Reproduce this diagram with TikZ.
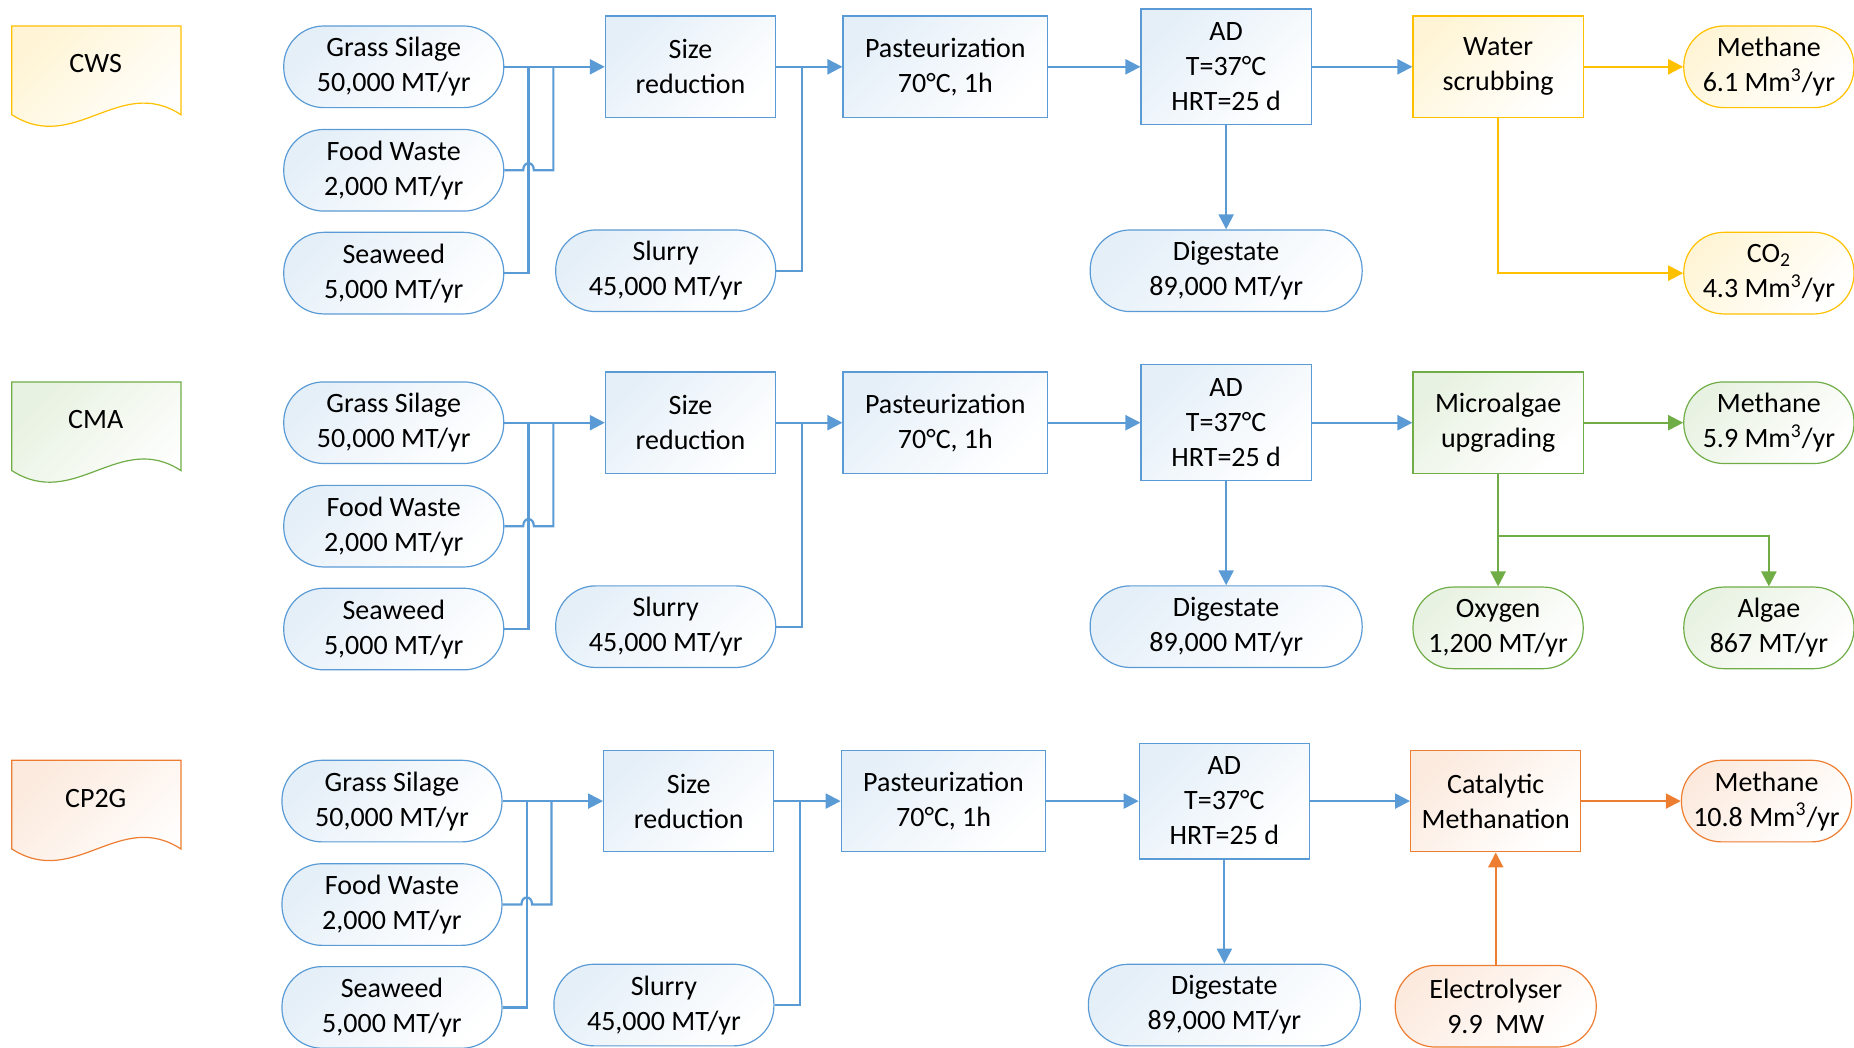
\documentclass[tikz,border=0pt]{standalone}
\usepackage{fontspec}
\setmainfont{Carlito}
\usetikzlibrary{arrows.meta,calc}

\definecolor{bluln}{HTML}{5B9BD5}
\definecolor{ylwln}{HTML}{FFC000}
\definecolor{grnln}{HTML}{70AD47}
\definecolor{orgln}{HTML}{ED7D31}

\tikzset{
  proc/.style={draw=#1, line width=0.6pt, top color=#1!16, bottom color=white, shading angle=45,
    minimum width=85.1pt, minimum height=50.8pt, align=center, inner sep=2pt},
  proc/.default=bluln,
  term/.style={draw=#1, line width=0.6pt, rounded corners=20pt, top color=#1!16, bottom color=white, shading angle=45,
    minimum width=85.1pt, minimum height=40.8pt, align=center, inner sep=2pt},
  term/.default=bluln,
  docshape/.style={draw=#1, line width=0.6pt, top color=#1!16, bottom color=white, shading angle=45},
  flow/.style={draw=#1, line width=1.1pt, -{Triangle[length=7.5pt,width=7.5pt]}},
  pipe/.style={draw=#1, line width=1.1pt},
}

\begin{document}
\begin{tikzpicture}[x=0.5912pt, y=-0.5912pt, every node/.style={font=\fontsize{14}{17.5}\selectfont}]
	\useasboundingbox (0,0) rectangle (1568,886);
	% three scenarios share the feed and digester part
	\foreach \r/\y/\dx/\tag/\col in {1/0/0/CWS/ylwln, 2/301/0/CMA/grnln, 3/621/-1.5/CP2G/orgln} {
		\path[docshape=\col] (10,\y+22) -- (153,\y+22) -- (153,\y+97) .. controls (101,\y+63) and (63,\y+131) .. (10,\y+97) -- cycle;
		\node (doc\r) at (81,\y+54) {\tag};
		\node[term, minimum width=110pt] (gs\r) at (333+\dx,\y+56.5) {Grass Silage\\50,000 MT/yr};
		\node[term, minimum width=110pt] (fw\r) at (333+\dx,\y+144) {Food Waste\\2,000 MT/yr};
		\node[term, minimum width=110pt] (sw\r) at (333+\dx,\y+231) {Seaweed\\5,000 MT/yr};
		\node[proc] (sr\r) at (584+\dx,\y+56.5) {Size\\reduction};
		\node[term, minimum width=110pt] (sl\r) at (563+\dx,\y+229) {Slurry\\45,000 MT/yr};
		\node[proc, minimum width=102.3pt] (pa\r) at (799.5+\dx,\y+56.5) {Pasteurization\\70°C, 1h};
		\node[proc, minimum height=57.9pt] (ad\r) at (1037+\dx,\y+56.5) {AD\\T=37°C\\HRT=25 d};
		\node[term, minimum width=136pt] (dg\r) at (1037+\dx,\y+229) {Digestate\\89,000 MT/yr};
		\coordinate (ja\r) at (447+\dx,\y+56.5);
		\coordinate (jb\r) at (468+\dx,\y+56.5);
		\coordinate (jc\r) at (678+\dx,\y+56.5);
		\draw[flow=bluln] (gs\r) -- (sr\r);
		\draw[pipe=bluln] (sw\r.east) -| (ja\r);
		\draw[pipe=bluln] (fw\r.east) -- ($(fw\r.east -| ja\r)+(-4.5,0)$) .. controls +(0,-8) and +(0,-8) .. ++(9,0) -| (jb\r);
		\draw[pipe=bluln] (sl\r.east) -| (jc\r);
		\draw[flow=bluln] (sr\r) -- (pa\r);
		\draw[flow=bluln] (pa\r) -- (ad\r);
		\draw[flow=bluln] (ad\r) -- (dg\r);
	}
	% CWS: water scrubbing
	\node[proc=ylwln] (ws) at (1267,56.5) {Water\\scrubbing};
	\node[term=ylwln] (me1) at (1496,56.5) {Methane\\6.1 Mm\textsuperscript{3}/yr};
	\node[term=ylwln] (co2) at (1496,231) {CO\textsubscript{2}\\4.3 Mm\textsuperscript{3}/yr};
	\draw[flow=bluln] (ad1) -- (ws);
	\draw[flow=ylwln] (ws) -- (me1);
	\draw[flow=ylwln] (ws.south) |- (co2.west);
	% CMA: microalgae upgrading
	\node[proc=grnln] (mu) at (1267,357.5) {Microalgae\\upgrading};
	\node[term=grnln] (me2) at (1496,357.5) {Methane\\5.9 Mm\textsuperscript{3}/yr};
	\node[term=grnln] (ox) at (1267,531) {Oxygen\\1,200 MT/yr};
	\node[term=grnln] (alg) at (1496,531) {Algae\\867 MT/yr};
	\coordinate (gj) at (1267,453);
	\draw[flow=bluln] (ad2) -- (mu);
	\draw[flow=grnln] (mu) -- (me2);
	\draw[flow=grnln] (mu) -- (ox);
	\draw[flow=grnln] (gj) -| (alg.north);
	% CP2G: catalytic methanation
	\node[proc=orgln] (cm) at (1265,677.5) {Catalytic\\Methanation};
	\node[term=orgln] (me3) at (1494,677.5) {Methane\\10.8 Mm\textsuperscript{3}/yr};
	\node[term=orgln, minimum width=100.5pt] (el) at (1265,851) {Electrolyser\\9.9~~MW};
	\draw[flow=bluln] (ad3) -- (cm);
	\draw[flow=orgln] (cm) -- (me3);
	\draw[flow=orgln] (el) -- (cm);
\end{tikzpicture}
\end{document}
